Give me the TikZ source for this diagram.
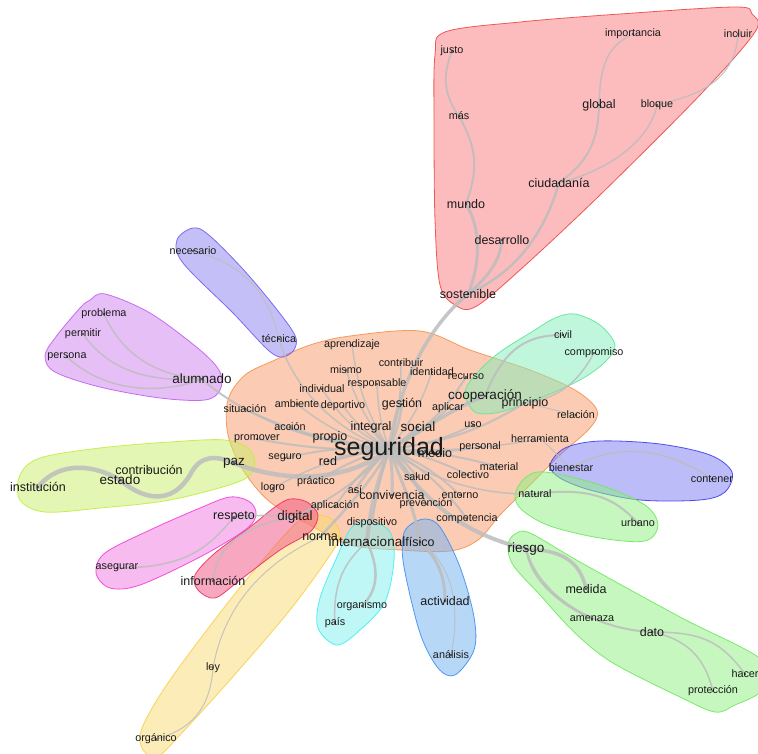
\documentclass[tikz,border=0pt]{standalone}
\usepackage{fontspec}
\setmainfont{Liberation Sans}
\definecolor{eg}{HTML}{BDBDBD}
\definecolor{txt}{HTML}{1A1A1A}
\definecolor{cOr}{HTML}{F99B69}\definecolor{bOr}{HTML}{F5924E}
\definecolor{cRd}{HTML}{FB7B7F}\definecolor{bRd}{HTML}{F04848}
\definecolor{cMt}{HTML}{83EFBB}\definecolor{bMt}{HTML}{5CE89A}
\definecolor{cBu}{HTML}{7B7BF5}\definecolor{bBu}{HTML}{4040F0}
\definecolor{cGr}{HTML}{8DF181}\definecolor{bGr}{HTML}{70E860}
\definecolor{cYg}{HTML}{CBEF6B}\definecolor{bYg}{HTML}{C0EE40}
\definecolor{cMg}{HTML}{F179E1}\definecolor{bMg}{HTML}{F040D8}
\definecolor{cPk}{HTML}{F15181}\definecolor{bPk}{HTML}{F03060}
\definecolor{cYe}{HTML}{FBDB71}\definecolor{bYe}{HTML}{F8D050}
\definecolor{cCy}{HTML}{81F1F1}\definecolor{bCy}{HTML}{40F0F0}
\definecolor{cLb}{HTML}{71B1F1}\definecolor{bLb}{HTML}{4090F0}
\definecolor{cLv}{HTML}{8D81F1}\definecolor{bLv}{HTML}{7060F0}
\definecolor{cPu}{HTML}{D181F1}\definecolor{bPu}{HTML}{C060F0}
\tikzset{
  blob/.style={line width=0.8pt, fill opacity=0.5, draw opacity=0.9},
  ln/.style={draw=eg, line width=#1, line cap=round, draw opacity=0.85},
  w/.style={font=\fontsize{10.8}{12}\selectfont, text=txt, inner sep=0pt},
  wm/.style={font=\fontsize{12.5}{14}\selectfont, text=txt, inner sep=0pt},
  wl/.style={font=\fontsize{13.5}{15}\selectfont, text=txt, inner sep=0pt},
  wx/.style={font=\fontsize{25}{28}\selectfont, text=txt, inner sep=0pt},
}
\begin{document}
\begin{tikzpicture}[x=1pt,y=-1pt]
\useasboundingbox (0,0) rectangle (758,753);
\fill[white] (0,0) rectangle (758,753);
\clip (0,0) rectangle (758,753);
% ---------- coordinates
\coordinate (S) at (389,449);
\coordinate (ap) at (352,345);
\coordinate (cb) at (401,363);
\coordinate (id) at (432,372);
\coordinate (mi) at (346,370);
\coordinate (rs) at (377,384);
\coordinate (rc) at (466,377);
\coordinate (iv) at (322,389);
\coordinate (si) at (245,409);
\coordinate (am) at (297,404);
\coordinate (dp) at (343,406);
\coordinate (ge) at (402,404);
\coordinate (apl) at (448,408);
\coordinate (co) at (485,396);
\coordinate (pr) at (525,403);
\coordinate (rl) at (576,415);
\coordinate (ac) at (290,427);
\coordinate (it) at (371,427);
\coordinate (so) at (418,427);
\coordinate (us) at (473,425);
\coordinate (pm) at (257,439);
\coordinate (po) at (330,437);
\coordinate (me) at (435,453);
\coordinate (pe) at (480,447);
\coordinate (he) at (540,439);
\coordinate (sg) at (285,458);
\coordinate (re) at (328,461);
\coordinate (sa) at (417,477);
\coordinate (cl) at (468,475);
\coordinate (ma) at (499,467);
\coordinate (lo) at (273,488);
\coordinate (pc) at (316,482);
\coordinate (as) at (355,490);
\coordinate (cv) at (392,495);
\coordinate (en) at (460,495);
\coordinate (pv) at (426,504);
\coordinate (apc) at (335,506);
\coordinate (cm) at (467,519);
\coordinate (ds) at (372,523);
\coordinate (dg) at (295,517);
\coordinate (no) at (320,537);
\coordinate (in) at (367,542);
\coordinate (fi) at (420,542);
\coordinate (te) at (279,339);
\coordinate (ne) at (193,251);
\coordinate (al) at (202,379);
\coordinate (pb) at (104,314);
\coordinate (pt) at (83,334);
\coordinate (ps) at (67,357);
\coordinate (pz) at (234,463);
\coordinate (ct) at (149,470);
\coordinate (es) at (120,480);
\coordinate (ins) at (38,487);
\coordinate (rp) at (234,517);
\coordinate (ag) at (117,568);
\coordinate (inf) at (213,581);
\coordinate (ly) at (213,668);
\coordinate (og) at (156,739);
\coordinate (ogm) at (362,606);
\coordinate (pa) at (335,623);
\coordinate (av) at (445,601);
\coordinate (an) at (451,655);
\coordinate (ri) at (526,549);
\coordinate (md) at (586,589);
\coordinate (amz) at (592,619);
\coordinate (dt) at (652,632);
\coordinate (hc) at (745,674);
\coordinate (prt) at (713,691);
\coordinate (nt) at (535,494);
\coordinate (ub) at (638,523);
\coordinate (bi) at (571,468);
\coordinate (cn) at (712,479);
\coordinate (cvl) at (563,335);
\coordinate (cpm) at (594,353);
\coordinate (sos) at (468,294);
\coordinate (des) at (502,240);
\coordinate (mu) at (466,204);
\coordinate (ci) at (559,183);
\coordinate (mas) at (459,116);
\coordinate (ju) at (452,51);
\coordinate (gl) at (599,105);
\coordinate (bl) at (657,105);
\coordinate (imp) at (633,34);
\coordinate (inc) at (738,34);
% ---------- blobs
\draw[blob, fill=cRd, draw=bRd] plot[smooth cycle, tension=0.55] coordinates {(445,32) (520,22) (620,14) (735,7) (752,14) (755,32) (700,95) (600,195) (520,270) (475,307) (455,305) (440,285) (435,220) (434,120) (435,55)};
\draw[blob, fill=cOr, draw=bOr] plot[smooth cycle, tension=0.55] coordinates {(228,400) (245,375) (275,360) (310,345) (350,336) (420,331) (470,350) (530,370) (575,390) (597,410) (590,428) (560,455) (530,485) (500,515) (478,540) (450,551) (400,550) (350,545) (310,525) (270,502) (243,470) (228,435)};
\draw[blob, fill=cMt, draw=bMt] plot[smooth cycle, tension=0.55] coordinates {(465,392) (478,372) (500,352) (530,333) (555,318) (575,314) (600,325) (615,345) (605,362) (580,380) (540,398) (500,412) (475,412)};
\draw[blob, fill=cBu, draw=bBu] plot[smooth cycle, tension=0.55] coordinates {(550,465) (565,448) (600,441) (660,444) (710,455) (732,472) (725,492) (700,500) (640,500) (590,490) (560,478)};
\draw[blob, fill=cGr, draw=bGr] plot[smooth cycle, tension=0.55] coordinates {(515,495) (525,478) (545,472) (600,485) (645,505) (658,525) (645,541) (600,538) (550,526) (522,510)};
\draw[blob, fill=cGr, draw=bGr] plot[smooth cycle, tension=0.55] coordinates {(508,545) (515,534) (530,533) (580,562) (680,617) (762,660) (762,690) (735,705) (715,712) (680,697) (613,663) (575,633) (540,595) (513,565)};
\draw[blob, fill=cYe, draw=bYe] plot[smooth cycle, tension=0.55] coordinates {(310,515) (330,518) (340,535) (330,555) (290,610) (230,680) (180,735) (158,756) (143,750) (142,728) (170,680) (230,600) (280,540) (300,520)};
\draw[blob, fill=cPk, draw=bPk] plot[smooth cycle, tension=0.55] coordinates {(290,499) (307,502) (318,515) (310,532) (280,550) (240,580) (215,598) (198,590) (195,575) (215,553) (250,527) (275,507)};
\draw[blob, fill=cMg, draw=bMg] plot[smooth cycle, tension=0.55] coordinates {(230,497) (250,502) (256,515) (245,530) (200,557) (140,585) (110,588) (96,573) (105,553) (150,530) (200,508)};
\draw[blob, fill=cYg, draw=bYg] plot[smooth cycle, tension=0.55] coordinates {(20,475) (40,458) (100,448) (170,442) (225,440) (250,450) (254,468) (238,482) (170,500) (100,508) (45,512) (20,500)};
\draw[blob, fill=cPu, draw=bPu] plot[smooth cycle, tension=0.55] coordinates {(90,300) (105,294) (150,313) (200,350) (220,372) (220,390) (205,400) (160,398) (100,387) (55,372) (45,356) (55,338) (80,308)};
\draw[blob, fill=cLv, draw=bLv] plot[smooth cycle, tension=0.55] coordinates {(177,240) (193,228) (210,236) (250,277) (292,330) (295,348) (283,357) (268,350) (233,313) (183,263)};
\draw[blob, fill=cCy, draw=bCy] plot[smooth cycle, tension=0.55] coordinates {(352,527) (370,521) (390,532) (394,560) (385,602) (360,630) (337,645) (318,628) (320,598) (337,557)};
\draw[blob, fill=cLb, draw=bLb] plot[smooth cycle, tension=0.55] coordinates {(410,525) (425,519) (440,527) (460,567) (474,617) (474,650) (455,675) (438,668) (420,633) (404,567) (403,537)};
% ---------- edges: centre
\draw[ln=1.5] (S) to[bend left=12] (ap);
\draw[ln=1.5] (S) to[bend right=8] (cb);
\draw[ln=1.5] (S) to[bend right=10] (id);
\draw[ln=1.5] (S) to[bend left=10] (mi);
\draw[ln=1.5] (S) to[bend left=8] (rs);
\draw[ln=2] (S) to[bend right=15] (rc);
\draw[ln=1.5] (S) to[bend left=15] (iv);
\draw[ln=2] (S) to[bend left=10] (si);
\draw[ln=1.5] (S) to[bend left=12] (am);
\draw[ln=1.5] (S) to[bend left=10] (dp);
\draw[ln=2.5] (S) to[bend right=8] (ge);
\draw[ln=2] (S) to[bend right=10] (apl);
\draw[ln=3.5] (S) .. controls (430,425) and (460,405) .. (co);
\draw[ln=2] (S) to[bend right=12] (pr);
\draw[ln=1] (pr) -- (rl);
\draw[ln=2] (S) to[bend left=8] (ac);
\draw[ln=2.5] (S) to[bend left=6] (it);
\draw[ln=3] (S) to[bend right=6] (so);
\draw[ln=2] (S) to[bend right=10] (us);
\draw[ln=2] (S) to[bend left=6] (pm);
\draw[ln=2.5] (S) to[bend left=6] (po);
\draw[ln=2.5] (S) to[bend right=6] (me);
\draw[ln=2] (S) to[bend right=8] (pe);
\draw[ln=1.5] (S) to[bend right=6] (he);
\draw[ln=2] (S) to[bend right=8] (sg);
\draw[ln=2.5] (S) to[bend right=6] (re);
\draw[ln=2.5] (S) to[bend left=8] (sa);
\draw[ln=2] (S) to[bend left=8] (cl);
\draw[ln=2] (S) to[bend left=6] (ma);
\draw[ln=1.5] (S) to[bend right=10] (lo);
\draw[ln=2] (S) to[bend right=8] (pc);
\draw[ln=2.5] (S) to[bend right=6] (as);
\draw[ln=3] (S) to[bend left=6] (cv);
\draw[ln=2] (S) to[bend left=10] (en);
\draw[ln=2.5] (S) to[bend left=8] (pv);
\draw[ln=2] (S) to[bend right=8] (apc);
\draw[ln=2] (S) to[bend left=12] (cm);
\draw[ln=2] (S) to[bend right=4] (ds);
\draw[ln=2] (S) .. controls (360,480) and (330,500) .. (dg);
\draw[ln=2.5] (S) .. controls (370,485) and (340,515) .. (no);
\draw[ln=4] (S) .. controls (375,490) and (370,510) .. (in);
\draw[ln=3] (S) .. controls (405,490) and (415,510) .. (fi);
\draw[ln=3.5] (S) .. controls (400,380) and (430,325) .. (sos);
\draw[ln=4.5] (S) .. controls (350,480) and (290,485) .. (pz);
\draw[ln=4] (S) .. controls (430,510) and (470,535) .. (ri);
\draw[ln=2] (S) .. controls (300,445) and (230,405) .. (al);
\draw[ln=1.5] (S) .. controls (330,430) and (290,380) .. (te);
\draw[ln=1.5] (S) .. controls (430,480) and (480,495) .. (nt);
% ---------- edges: clusters
\draw[ln=3] (sos) .. controls (480,265) and (482,230) .. (mu);
\draw[ln=2] (mu) .. controls (478,170) and (478,150) .. (mas);
\draw[ln=1.8] (mas) .. controls (440,90) and (445,70) .. (ju);
\draw[ln=3] (sos) .. controls (490,275) and (500,260) .. (des);
\draw[ln=2.5] (sos) .. controls (520,270) and (545,230) .. (ci);
\draw[ln=2] (ci) .. controls (590,160) and (598,140) .. (gl);
\draw[ln=1.5] (gl) .. controls (600,60) and (610,45) .. (imp);
\draw[ln=1.5] (ci) .. controls (610,170) and (650,140) .. (bl);
\draw[ln=1.2] (bl) .. controls (700,95) and (735,80) .. (inc);
\draw[ln=1.5] (al) .. controls (150,375) and (120,350) .. (pb);
\draw[ln=1.5] (al) .. controls (150,382) and (110,372) .. (pt);
\draw[ln=1.5] (al) .. controls (170,392) and (110,397) .. (ps);
\draw[ln=1] (ne) .. controls (250,265) and (270,300) .. (te);
\draw[ln=4.5] (ins) .. controls (60,460) and (95,465) .. (es);
\draw[ln=4.5] (es) .. controls (150,505) and (175,500) .. (190,475) .. controls (200,455) and (215,455) .. (pz);
\draw[ln=1.5] (rp) .. controls (210,545) and (190,568) .. (ag);
\draw[ln=1.5] (rp) to[bend left=5] (dg);
\draw[ln=1.5] (dg) .. controls (240,525) and (215,550) .. (inf);
\draw[ln=1] (no) .. controls (270,560) and (225,600) .. (ly);
\draw[ln=1] (ly) .. controls (210,710) and (190,730) .. (og);
\draw[ln=2.5] (in) .. controls (380,570) and (378,590) .. (ogm);
\draw[ln=1.5] (in) .. controls (340,565) and (333,590) .. (pa);
\draw[ln=3] (fi) .. controls (440,560) and (445,580) .. (av);
\draw[ln=1] (fi) .. controls (460,570) and (458,620) .. (an);
\draw[ln=3.5] (ri) .. controls (560,550) and (580,560) .. (md);
\draw[ln=1.5] (ri) .. controls (530,580) and (560,605) .. (amz);
\draw[ln=2] (ri) .. controls (540,600) and (600,630) .. (dt);
\draw[ln=1.5] (dt) .. controls (700,632) and (720,640) .. (hc);
\draw[ln=1.5] (dt) .. controls (690,640) and (705,660) .. (prt);
\draw[ln=2] (nt) .. controls (600,485) and (620,505) .. (ub);
\draw[ln=1.5] (bi) .. controls (620,440) and (670,450) .. (cn);
\draw[ln=1] (he) .. controls (555,450) and (560,460) .. (bi);
\draw[ln=2] (co) .. controls (505,345) and (530,335) .. (cvl);
\draw[ln=1.5] (pr) .. controls (560,398) and (578,382) .. (cpm);
% ---------- dots
\foreach \c in {S,ap,cb,id,mi,rs,rc,iv,si,am,dp,ge,apl,co,pr,rl,ac,it,so,us,pm,po,me,pe,he,sg,re,sa,cl,ma,lo,pc,as,cv,en,pv,apc,cm,ds,dg,no,in,fi,te,ne,al,pb,pt,ps,pz,ct,es,ins,rp,ag,inf,ly,og,ogm,pa,av,an,ri,md,amz,dt,hc,prt,nt,ub,bi,cn,cvl,cpm,sos,des,mu,ci,mas,ju,gl,bl,imp,inc}
  \fill[black] (\c) circle (0.8);
% ---------- labels
\node[wx] (tS) at (S) {seguridad};
\node[w] (tap) at (ap) {aprendizaje};
\node[w] (tcb) at (cb) {contribuir};
\node[w] (tid) at (id) {identidad};
\node[w] (tmi) at (mi) {mismo};
\node[w] (trs) at (rs) {responsable};
\node[w] (trc) at (rc) {recurso};
\node[w] (tiv) at (iv) {individual};
\node[w] (tsi) at (si) {situación};
\node[w] (tam) at (am) {ambiente};
\node[w] (tdp) at (dp) {deportivo};
\node[wm] (tge) at (ge) {gestión};
\node[w] (tapl) at (apl) {aplicar};
\node[wl] (tco) at (co) {cooperación};
\node[wm] (tpr) at (pr) {principio};
\node[w] (trl) at (rl) {relación};
\node[w] (tac) at (ac) {acción};
\node[wm] (tit) at (it) {integral};
\node[wl] (tso) at (so) {social};
\node[w] (tus) at (us) {uso};
\node[w] (tpm) at (pm) {promover};
\node[wm] (tpo) at (po) {propio};
\node[wm] (tme) at (me) {medio};
\node[w] (tpe) at (pe) {personal};
\node[w] (the) at (he) {herramienta};
\node[w] (tsg) at (sg) {seguro};
\node[wm] (tre) at (re) {red};
\node[w] (tsa) at (sa) {salud};
\node[w] (tcl) at (cl) {colectivo};
\node[w] (tma) at (ma) {material};
\node[w] (tlo) at (lo) {logro};
\node[w] (tpc) at (pc) {práctico};
\node[w] (tas) at (as) {así};
\node[wm] (tcv) at (cv) {convivencia};
\node[w] (ten) at (en) {entorno};
\node[w] (tpv) at (pv) {prevención};
\node[w] (tapc) at (apc) {aplicación};
\node[w] (tcm) at (cm) {competencia};
\node[w] (tds) at (ds) {dispositivo};
\node[wl] (tdg) at (dg) {digital};
\node[wm] (tno) at (no) {norma};
\node[wl] (tin) at (in) {internacional};
\node[wm] (tfi) at (fi) {físico};
\node[w] (tte) at (te) {técnica};
\node[w] (tne) at (ne) {necesario};
\node[wl] (tal) at (al) {alumnado};
\node[w] (tpb) at (pb) {problema};
\node[w] (tpt) at (pt) {permitir};
\node[w] (tps) at (ps) {persona};
\node[wl] (tpz) at (pz) {paz};
\node[wm] (tct) at (ct) {contribución};
\node[wl] (tes) at (es) {estado};
\node[wm] (tins) at (ins) {institución};
\node[wm] (trp) at (rp) {respeto};
\node[w] (tag) at (ag) {asegurar};
\node[wm] (tinf) at (inf) {información};
\node[w] (tly) at (ly) {ley};
\node[w] (tog) at (og) {orgánico};
\node[w] (togm) at (ogm) {organismo};
\node[w] (tpa) at (pa) {país};
\node[wm] (tav) at (av) {actividad};
\node[w] (tan) at (an) {análisis};
\node[wl] (tri) at (ri) {riesgo};
\node[wm] (tmd) at (md) {medida};
\node[w] (tamz) at (amz) {amenaza};
\node[wm] (tdt) at (dt) {dato};
\node[w] (thc) at (hc) {hacer};
\node[w] (tprt) at (prt) {protección};
\node[w] (tnt) at (nt) {natural};
\node[w] (tub) at (ub) {urbano};
\node[w] (tbi) at (bi) {bienestar};
\node[w] (tcn) at (cn) {contener};
\node[w] (tcvl) at (cvl) {civil};
\node[w] (tcpm) at (cpm) {compromiso};
\node[wm] (tsos) at (sos) {sostenible};
\node[wm] (tdes) at (des) {desarrollo};
\node[wm] (tmu) at (mu) {mundo};
\node[wm] (tci) at (ci) {ciudadanía};
\node[w] (tmas) at (mas) {más};
\node[w] (tju) at (ju) {justo};
\node[wm] (tgl) at (gl) {global};
\node[w] (tbl) at (bl) {bloque};
\node[w] (timp) at (imp) {importancia};
\node[w] (tinc) at (inc) {incluir};
\end{tikzpicture}
\end{document}
